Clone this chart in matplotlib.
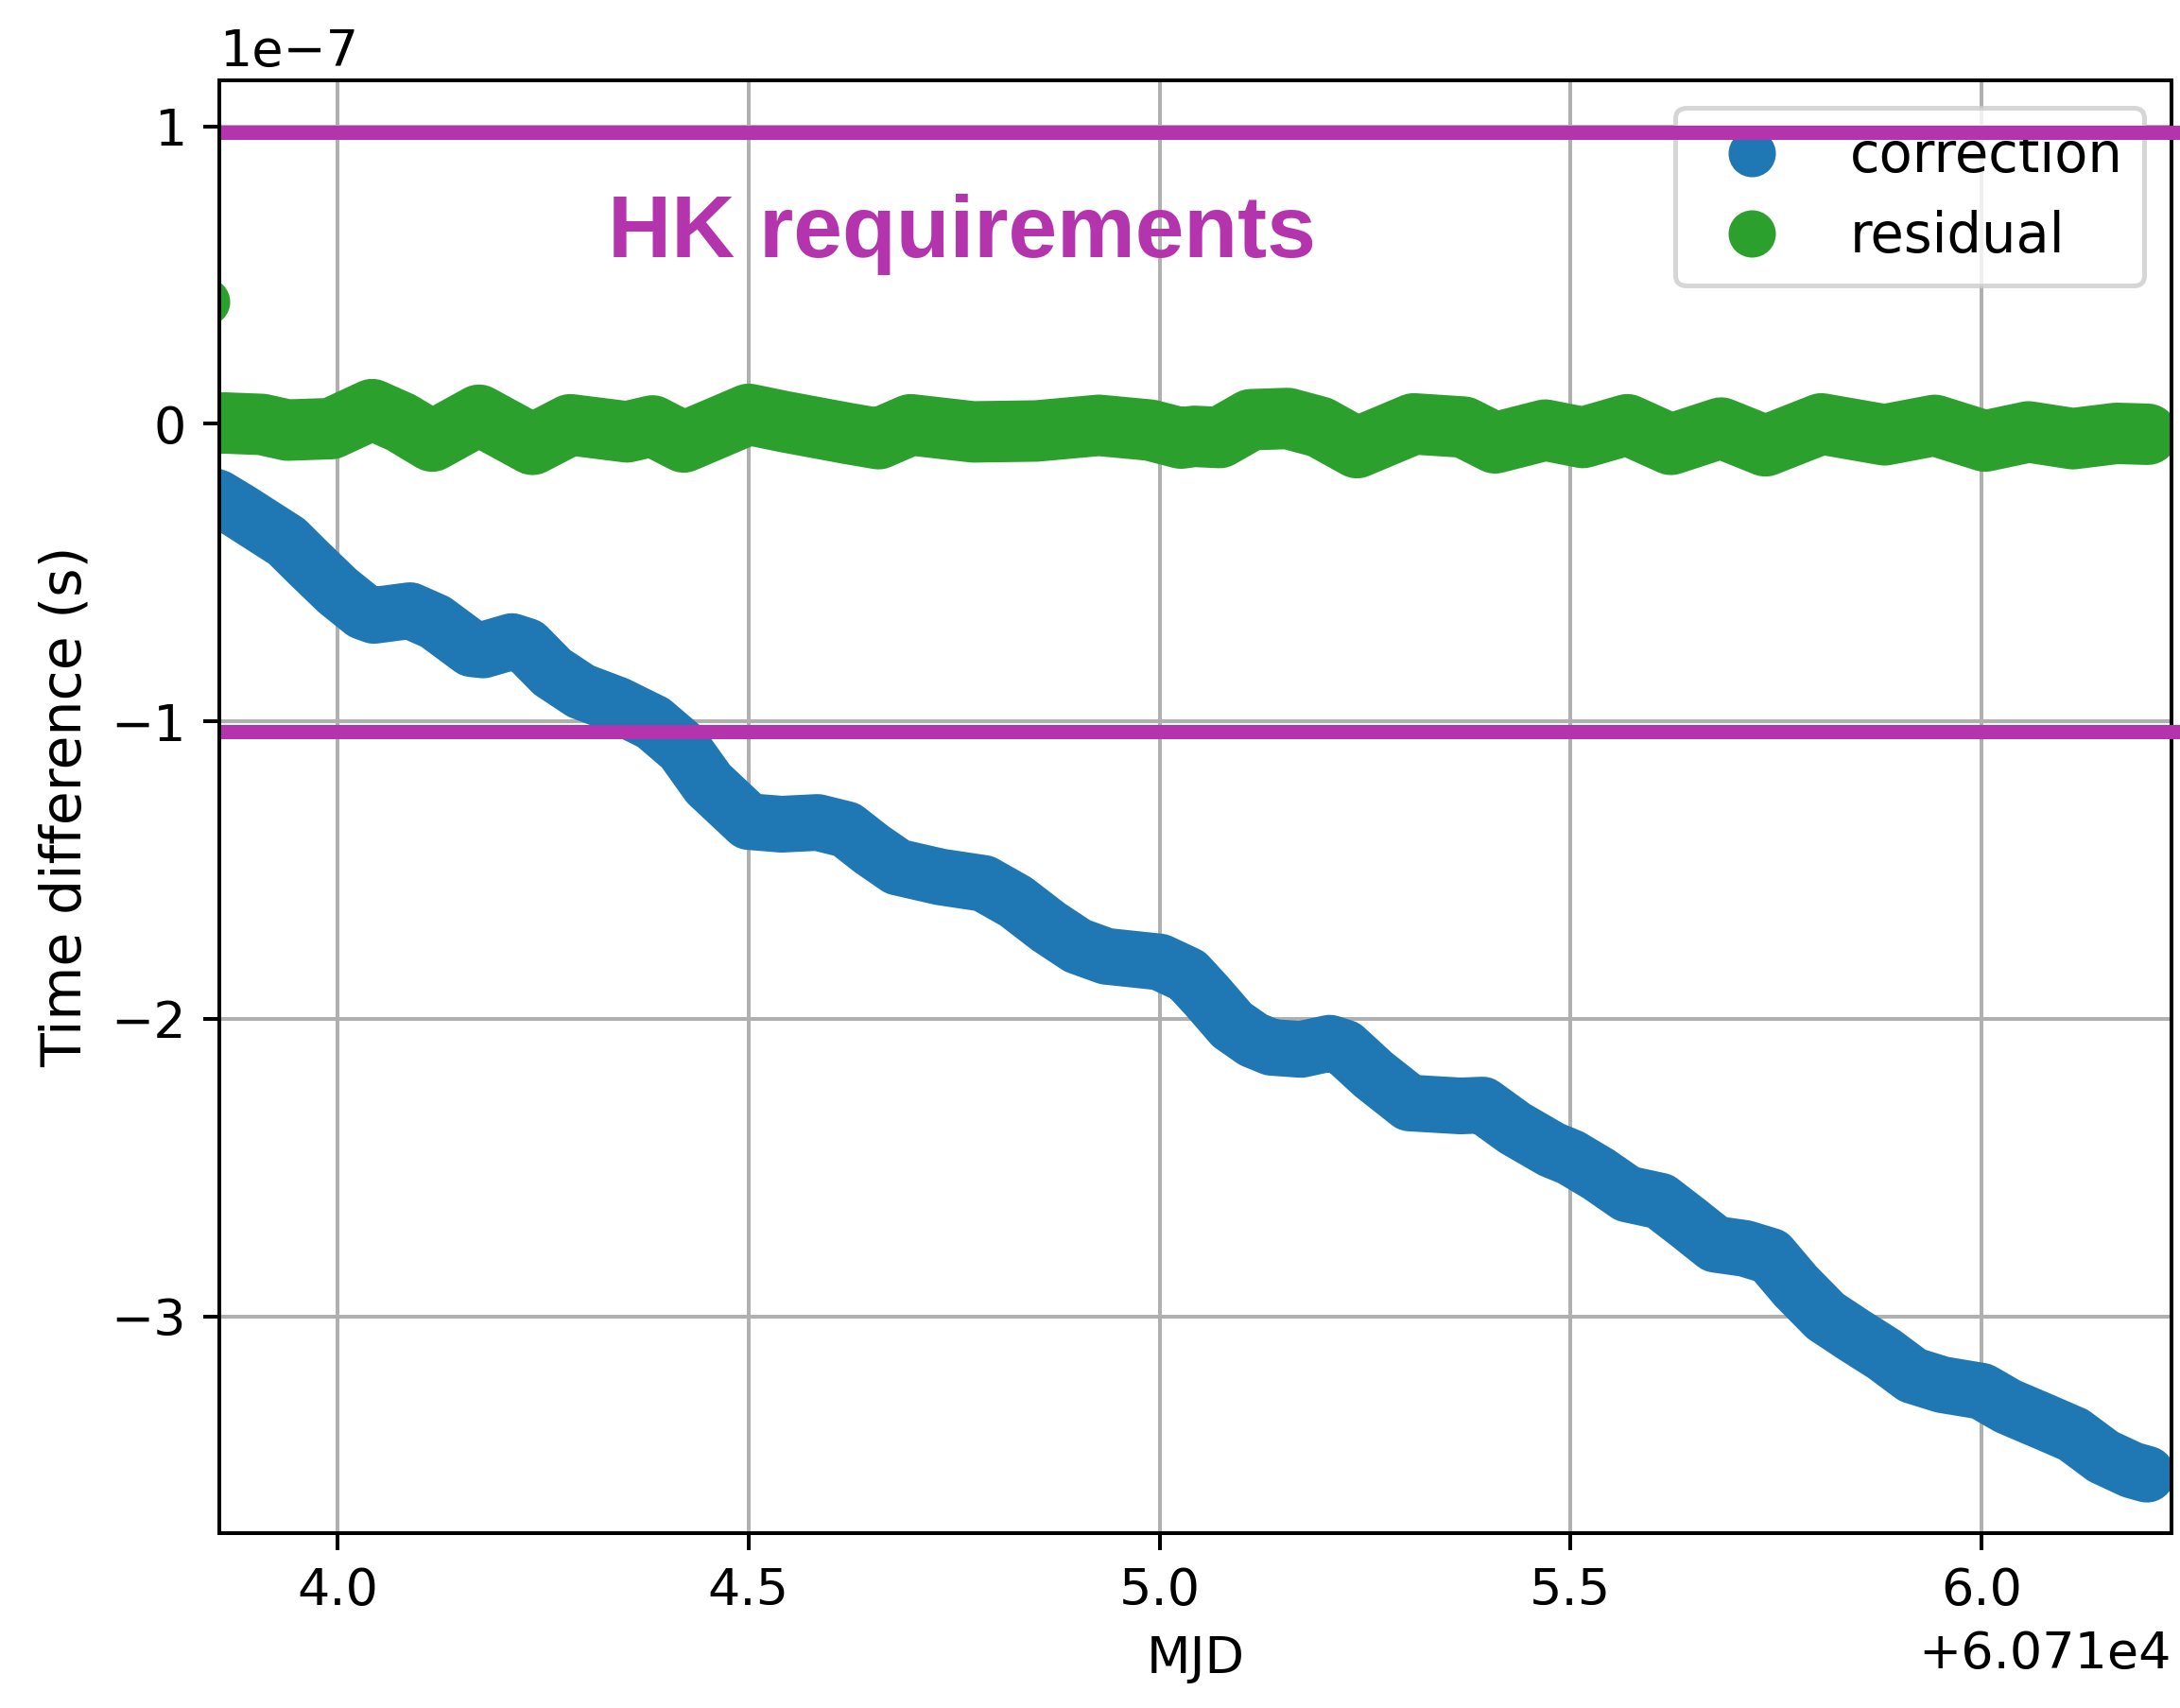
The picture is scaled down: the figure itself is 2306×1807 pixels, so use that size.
import matplotlib.pyplot as plt
from matplotlib.lines import Line2D
import numpy as np

plt.rcParams["font.size"] = 10.8

# clock correction applied (MJD, units of 1e-7 s)
correction_mjd = [60713.826, 60713.854, 60713.881, 60713.912, 60713.938, 60713.965,
                  60714.000, 60714.031, 60714.044, 60714.088, 60714.119, 60714.163,
                  60714.177, 60714.212, 60714.230, 60714.261, 60714.296, 60714.340,
                  60714.384, 60714.420, 60714.451, 60714.500, 60714.540, 60714.584,
                  60714.619, 60714.650, 60714.681, 60714.733, 60714.786, 60714.825,
                  60714.865, 60714.900, 60714.935, 60715.000, 60715.034, 60715.057,
                  60715.088, 60715.114, 60715.136, 60715.172, 60715.207, 60715.225,
                  60715.260, 60715.304, 60715.366, 60715.393, 60715.432, 60715.477,
                  60715.500, 60715.534, 60715.569, 60715.609, 60715.641, 60715.676,
                  60715.712, 60715.743, 60715.774, 60715.810, 60715.845, 60715.881,
                  60715.916, 60715.952, 60716.000, 60716.032, 60716.077, 60716.112,
                  60716.148, 60716.183, 60716.201]
correction = [-0.222, -0.249, -0.294, -0.349, -0.395, -0.469,
              -0.562, -0.631, -0.644, -0.628, -0.666, -0.756,
              -0.760, -0.732, -0.748, -0.835, -0.899, -0.945,
              -1.005, -1.090, -1.210, -1.337, -1.346, -1.340,
              -1.364, -1.431, -1.490, -1.523, -1.545, -1.606,
              -1.691, -1.755, -1.790, -1.809, -1.853, -1.922,
              -2.021, -2.071, -2.096, -2.103, -2.082, -2.098,
              -2.187, -2.283, -2.293, -2.290, -2.368, -2.440,
              -2.466, -2.522, -2.589, -2.613, -2.681, -2.758,
              -2.772, -2.798, -2.899, -3.000, -3.064, -3.127,
              -3.199, -3.230, -3.252, -3.303, -3.356, -3.398,
              -3.472, -3.517, -3.531]

# residual after correction
residual_mjd = [60713.845, 60713.862, 60713.908, 60713.939, 60713.992, 60714.042,
                60714.077, 60714.115, 60714.172, 60714.237, 60714.283, 60714.352,
                60714.383, 60714.421, 60714.500, 60714.544, 60714.620, 60714.658,
                60714.697, 60714.773, 60714.850, 60714.926, 60714.988, 60715.026,
                60715.042, 60715.073, 60715.111, 60715.156, 60715.195, 60715.240,
                60715.309, 60715.370, 60715.408, 60715.469, 60715.515, 60715.569,
                60715.622, 60715.683, 60715.737, 60715.805, 60715.882, 60715.943,
                60716.004, 60716.057, 60716.111, 60716.164, 60716.202]
residual = [0.000, 0.003, -0.002, -0.021, -0.016, 0.048,
            0.005, -0.058, 0.029, -0.069, -0.003, -0.027,
            -0.007, -0.061, 0.032, 0.007, -0.032, -0.050,
            -0.003, -0.027, -0.024, -0.005, -0.021, -0.048,
            -0.042, -0.046, 0.014, 0.018, -0.011, -0.080,
            0.000, -0.011, -0.064, -0.021, -0.046, -0.003,
            -0.069, -0.014, -0.074, 0.000, -0.037, -0.005,
            -0.058, -0.027, -0.050, -0.032, -0.035]
residual_first = (60713.840, 0.41)

REQ_LIMITS = [0.981, -1.034]
SCALE = 1e-7
MAGENTA = "#b434ad"

fig = plt.figure(figsize=(2306 / 360, 1807 / 360), dpi=360)
ax = fig.add_axes([0.1006, 0.1024, 0.8955, 0.8506])

ax.plot(correction_mjd, np.array(correction) * SCALE, color="C0", lw=12,
        solid_capstyle="round", solid_joinstyle="round")
ax.plot(residual_mjd, np.array(residual) * SCALE, color="C2", lw=13,
        solid_capstyle="round", solid_joinstyle="round")
ax.plot([residual_first[0]], [residual_first[1] * SCALE], "o", color="C2", ms=9)

ax.set_xlim(60713.856, 60716.231)
ax.set_ylim(-3.729e-7, 1.155e-7)
ax.grid(True)
ax.set_xlabel("MJD")
ax.set_ylabel("Time difference (s)", fontsize=11.7)

handles = [Line2D([], [], ls="none", marker="o", ms=9, color="C0", label="correction"),
           Line2D([], [], ls="none", marker="o", ms=9, color="C2", label="residual")]
ax.legend(handles=handles, loc="upper right", fontsize=11.5)

# HK requirement band
for lim in REQ_LIMITS:
    ax.axhline(lim * SCALE, xmin=0.0044, xmax=1.0024, color=MAGENTA, lw=3,
               clip_on=False, zorder=6)
ax.text(60714.329, 0.561e-7, "HK requirements", color=MAGENTA, fontsize=18.6,
        fontweight="bold", family="Liberation Sans", ha="left", va="baseline",
        zorder=7)

fig.savefig("out.png", dpi=360)
